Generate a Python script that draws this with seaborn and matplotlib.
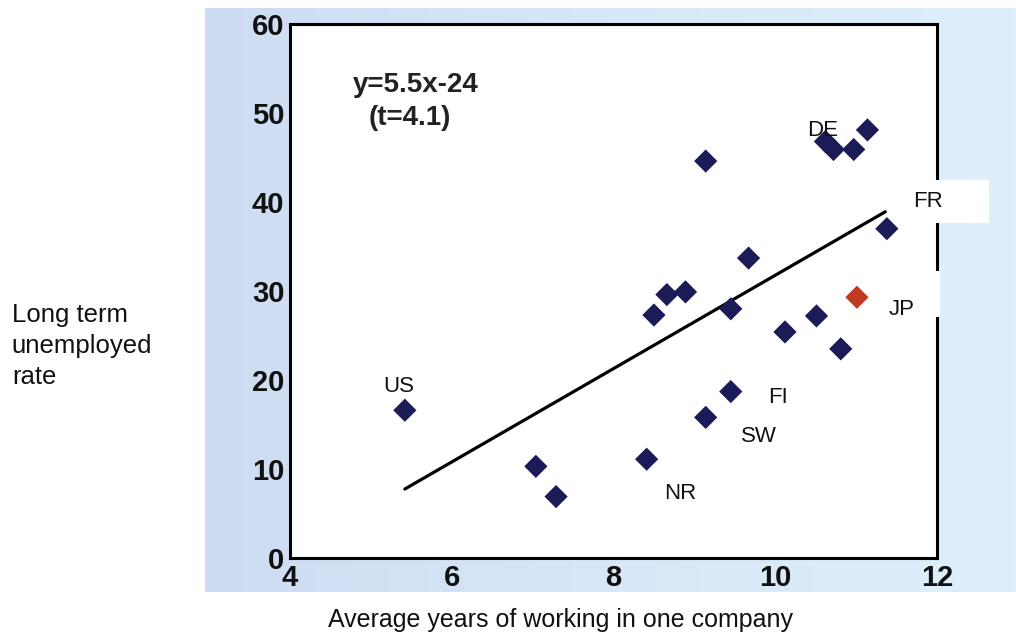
import numpy as np
import pandas as pd
import matplotlib
matplotlib.use("Agg")
import matplotlib.pyplot as plt
from matplotlib.colors import LinearSegmentedColormap
from matplotlib.patches import Rectangle
import seaborn as sns

# average years of working in one company vs long-term unemployed rate
years = [5.42, 7.04, 7.29, 8.41, 9.14, 9.45, 8.50, 8.66, 8.89, 9.45, 9.67,
         10.12, 10.51, 10.81, 11.01, 11.38, 9.14, 10.62, 10.72, 10.97, 11.14]
rate = [16.6, 10.3, 6.9, 11.1, 15.8, 18.7, 27.3, 29.6, 29.9, 28.0, 33.7,
        25.4, 27.2, 23.5, 29.3, 37.0, 44.6, 46.8, 45.9, 45.9, 48.1]
group = ["other"] * 14 + ["Japan"] + ["other"] * 6

# fitted line as drawn in the picture
fit_x = [5.42, 11.36]
fit_y = [7.75, 38.9]

country_labels = ["US", "DE", "FR", "JP", "FI", "SW", "NR"]
label_x = [5.35, 10.58, 11.89, 11.56, 10.03, 9.80, 8.82]
label_y = [19.3, 48.0, 40.1, 27.9, 18.0, 13.6, 7.3]

x_ticks = [4, 6, 8, 10, 12]
y_ticks = [0, 10, 20, 30, 40, 50, 60]

df = pd.DataFrame({"years": years, "rate": rate, "group": group})

sns.set_theme(style="white")
plt.rcParams["font.family"] = ["Liberation Sans", "DejaVu Sans"]

W, H = 1016, 639
fig = plt.figure(figsize=(W / 100, H / 100), dpi=100)
fig.patch.set_facecolor("white")

# light blue slide background behind the chart
bg = fig.add_axes([205 / W, 1 - 592 / H, (W - 205) / W, (592 - 8) / H], zorder=0)
cmap = LinearSegmentedColormap.from_list("bgblue", ["#cddcf2", "#d8e7f7", "#def0fb"])
bg.imshow(np.linspace(0, 1, 256).reshape(1, -1), aspect="auto", cmap=cmap,
          extent=[0, 1, 0, 1])
bg.set_axis_off()

ax = fig.add_axes([290 / W, 1 - 558 / H, (937 - 290) / W, (558 - 24) / H], zorder=1)
ax.set_facecolor("white")

sns.scatterplot(data=df, x="years", y="rate", hue="group", marker="D", s=140,
                palette={"other": "#1b1b58", "Japan": "#c23a22"},
                edgecolor="none", legend=False, ax=ax, zorder=3)
sns.lineplot(x=fit_x, y=fit_y, color="black", linewidth=2.3, ax=ax, zorder=2)

ax.set_xlim(4, 12)
ax.set_ylim(0, 60)
ax.set_xticks(x_ticks)
ax.set_yticks(y_ticks)
ax.tick_params(direction="in", length=9, width=2, color="black",
               labelsize=21, pad=4)
for lab in ax.get_xticklabels() + ax.get_yticklabels():
    lab.set_fontweight("bold")
    lab.set_color("#111111")
for sp in ax.spines.values():
    sp.set_color("black")
    sp.set_linewidth(2.2)

# white boxes cutting the right border behind FR and JP
ax.add_patch(Rectangle((0.955, 0.627), 0.125, 0.08, transform=ax.transAxes,
                       facecolor="white", edgecolor="none", clip_on=False, zorder=4))
ax.add_patch(Rectangle((0.90, 0.452), 0.105, 0.085, transform=ax.transAxes,
                       facecolor="white", edgecolor="none", clip_on=False, zorder=4))

for name, lx, ly in zip(country_labels, label_x, label_y):
    ax.text(lx, ly, name, ha="center", va="center", fontsize=16,
            color="#111111", zorder=5, clip_on=False)

ax.text(5.55, 53.1, "y=5.5x-24", ha="center", va="center", fontsize=20,
        fontweight="bold", color="#222222")
ax.text(5.48, 49.4, "(t=4.1)", ha="center", va="center", fontsize=20,
        fontweight="bold", color="#222222")

ax.set_xlabel("Average years of working in one company", fontsize=18,
              color="#111111")
ax.xaxis.set_label_coords(0.418, -0.094)
ax.set_ylabel("Long term\nunemployed\nrate", fontsize=18.5, rotation=0,
              ha="left", va="center", multialignment="left",
              linespacing=1.38, color="#111111")
ax.yaxis.set_label_coords(-0.430, 0.397)

fig.savefig("out.png", dpi=100)
